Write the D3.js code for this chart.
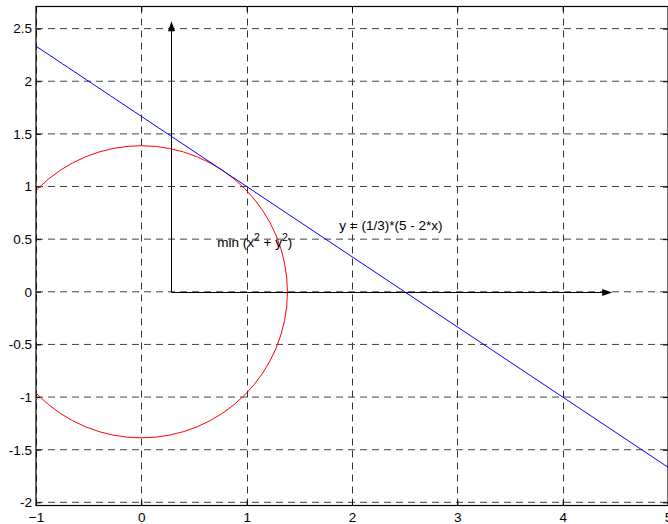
<!DOCTYPE html>
<html>
<head>
<meta charset="utf-8">
<script src="https://cdn.jsdelivr.net/npm/d3@7"></script>
<style>
  html, body { margin: 0; padding: 0; background: #fff; }
  svg { display: block; font-family: "Liberation Sans", Arial, sans-serif; }
</style>
</head>
<body>
<svg id="chart" width="668" height="524"></svg>
<script>
// ---- data ----
const xTicks = [-1, 0, 1, 2, 3, 4, 5];
const yTicks = [-2, -1.5, -1, -0.5, 0, 0.5, 1, 1.5, 2, 2.5];
const xDomain = [-1, 5];
const yDomain = [-2.03, 2.71];
// constraint line y = (1/3)*(5 - 2*x), endpoints
const lineX = [-1, 5];
const lineY = [2.3333, -1.6667];
// level circle min(x^2 + y^2): centre and radius
const circleCenter = [0, 0];
const circleRadius = 1.3868;
// arrows (axes drawn inside plot)
const arrowOrigin = [0.285, 0];
const arrowXEnd = 4.47;
const arrowYEnd = 2.57;
// labels
const labelLine = { x: 1.88, y: 0.59, text: "y = (1/3)*(5 - 2*x)" };
const labelMin = { x: 0.72, y: 0.425 };

// ---- layout ----
const svg = d3.select("#chart");
const mLeft = 36, mRight = 668, mTop = 6.5, mBottom = 505.5;
const FS = 13.5;
const x = d3.scaleLinear().domain(xDomain).range([mLeft, mRight]);
const y = d3.scaleLinear().domain(yDomain).range([mBottom, mTop]);

svg.append("defs").append("clipPath").attr("id", "clip")
  .append("rect").attr("x", mLeft).attr("y", mTop)
  .attr("width", mRight - mLeft).attr("height", mBottom - mTop);

// grid
const grid = svg.append("g");
grid.selectAll(".vg").data(xTicks).join("line")
  .attr("x1", d => Math.round(x(d)) + 0.5).attr("x2", d => Math.round(x(d)) + 0.5)
  .attr("y1", mTop).attr("y2", mBottom)
  .attr("stroke", "#333").attr("stroke-width", 1).attr("stroke-dasharray", "7,5");
grid.selectAll(".hg").data(yTicks).join("line")
  .attr("x1", mLeft).attr("x2", mRight)
  .attr("y1", d => y(d)).attr("y2", d => y(d))
  .attr("stroke", "#444").attr("stroke-width", 1).attr("stroke-dasharray", "7,5");

// axes with inward ticks
const xAxisB = d3.axisBottom(x).tickValues(xTicks).tickSize(-5).tickPadding(7).tickFormat(d3.format("d"));
const xAxisT = d3.axisTop(x).tickValues(xTicks).tickSize(-5).tickFormat("");
const yAxisL = d3.axisLeft(y).tickValues(yTicks).tickSize(-5).tickPadding(4).tickFormat(d => String(d));
const yAxisR = d3.axisRight(y).tickValues(yTicks).tickSize(-5).tickFormat("");

function style(g) {
  g.select(".domain").remove();
  g.selectAll(".tick line").attr("stroke", "#000");
  g.selectAll("text").attr("fill", "#000").attr("font-size", FS)
    .attr("font-family", "'Liberation Sans', Arial, sans-serif");
}
svg.append("g").attr("transform", `translate(0,${mBottom})`).call(xAxisB).call(style);
svg.append("g").attr("transform", `translate(0,${mTop})`).call(xAxisT).call(style);
svg.append("g").attr("transform", `translate(${mLeft},0)`).call(yAxisL).call(style);
svg.append("g").attr("transform", `translate(${mRight},0)`).call(yAxisR).call(style);

// box
svg.append("rect").attr("x", mLeft).attr("y", mTop)
  .attr("width", mRight - mLeft).attr("height", mBottom - mTop)
  .attr("fill", "none").attr("stroke", "#000").attr("stroke-width", 1.2);

// plot content
const plot = svg.append("g").attr("clip-path", "url(#clip)");
plot.append("circle")
  .attr("cx", x(circleCenter[0])).attr("cy", y(circleCenter[1]))
  .attr("r", x(circleRadius) - x(0))
  .attr("fill", "none").attr("stroke", "#ff0000").attr("stroke-width", 1);

const pts = lineX.map((d, i) => [d, lineY[i]]);
plot.append("path").datum(pts)
  .attr("d", d3.line().x(d => x(d[0])).y(d => y(d[1])))
  .attr("fill", "none").attr("stroke", "#0000ff").attr("stroke-width", 1);

// arrows
function arrow(x1, y1, x2, y2) {
  const ang = Math.atan2(y2 - y1, x2 - x1);
  const L = 10, W = 3.5;
  plot.append("line").attr("x1", x1).attr("y1", y1)
    .attr("x2", x2 - L * Math.cos(ang) * 0.8).attr("y2", y2 - L * Math.sin(ang) * 0.8)
    .attr("stroke", "#000").attr("stroke-width", 1);
  const bx = x2 - L * Math.cos(ang), by = y2 - L * Math.sin(ang);
  const px = -Math.sin(ang) * W, py = Math.cos(ang) * W;
  plot.append("path")
    .attr("d", `M${x2},${y2}L${bx + px},${by + py}L${bx - px},${by - py}Z`)
    .attr("fill", "#000");
}
const ox = Math.round(x(arrowOrigin[0])) + 0.5, oy = Math.round(y(arrowOrigin[1])) + 0.5;
arrow(ox, oy, x(arrowXEnd), oy);
arrow(ox, oy, ox, y(arrowYEnd));

// labels
svg.append("text").attr("x", x(labelLine.x)).attr("y", y(labelLine.y))
  .attr("font-size", FS).attr("fill", "#000").text(labelLine.text);

const t = svg.append("text").attr("x", x(labelMin.x)).attr("y", y(labelMin.y))
  .attr("font-size", FS).attr("fill", "#000");
t.append("tspan").text("min (x");
t.append("tspan").attr("dy", -6).attr("font-size", 10.5).text("2");
t.append("tspan").attr("dy", 6).text(" + y");
t.append("tspan").attr("dy", -6).attr("font-size", 10.5).text("2");
t.append("tspan").attr("dy", 6).text(")");
</script>
</body>
</html>
